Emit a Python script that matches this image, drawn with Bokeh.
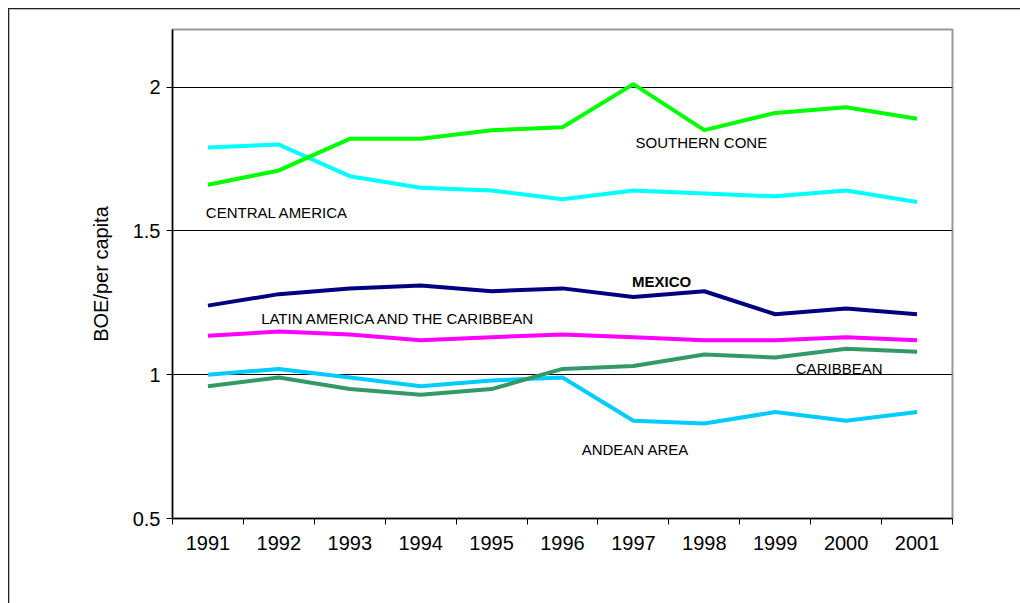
from bokeh.plotting import figure
from bokeh.models import FixedTicker, Range1d
from bokeh.core.properties import value
from bokeh.embed import file_html
from bokeh.resources import INLINE

years = [1991, 1992, 1993, 1994, 1995, 1996, 1997, 1998, 1999, 2000, 2001]
andean_area = [1.00, 1.02, 0.99, 0.96, 0.98, 0.99, 0.84, 0.83, 0.87, 0.84, 0.87]
central_america = [1.79, 1.80, 1.69, 1.65, 1.64, 1.61, 1.64, 1.63, 1.62, 1.64, 1.60]
caribbean = [0.96, 0.99, 0.95, 0.93, 0.95, 1.02, 1.03, 1.07, 1.06, 1.09, 1.08]
latin_america = [1.135, 1.15, 1.14, 1.12, 1.13, 1.14, 1.13, 1.12, 1.12, 1.13, 1.12]
mexico = [1.24, 1.28, 1.30, 1.31, 1.29, 1.30, 1.27, 1.29, 1.21, 1.23, 1.21]
southern_cone = [1.66, 1.71, 1.82, 1.82, 1.85, 1.86, 2.01, 1.85, 1.91, 1.93, 1.89]

y_ticks = [0.5, 1, 1.5, 2]
y_tick_labels = ["0.5", "1", "1.5", "2"]

series = [
    (andean_area, "#00CCFF"),
    (central_america, "#00FFFF"),
    (caribbean, "#339966"),
    (latin_america, "#FF00FF"),
    (mexico, "#000080"),
    (southern_cone, "#00FF00"),
]

label_texts = ["CENTRAL AMERICA", "SOUTHERN CONE", "LATIN AMERICA AND THE CARIBBEAN",
               "MEXICO", "CARIBBEAN", "ANDEAN AREA"]
label_x = [1990.97, 1997.03, 1991.75, 1996.98, 1999.29, 1996.27]
label_y = [1.5625, 1.806, 1.194, 1.323, 1.022, 0.74]
label_bold = [False, False, False, True, False, False]

FONT = "Liberation Sans"

p = figure(width=1020, height=603, output_backend="svg", toolbar_location=None,
           x_range=Range1d(1990.5, 2001.5), y_range=Range1d(0.5, 2.2),
           min_border_left=172, min_border_right=68, min_border_top=29, min_border_bottom=85)
p.border_fill_color = None
p.background_fill_color = "#ffffff"
p.styles = {"background-color": "#ffffff",
            "box-shadow": "inset 8px 8px 0 0 #ffffff, inset 9px 9px 0 0 #222222, inset 10px 10px 0 0 #bbbbbb"}

p.outline_line_color = "#999999"
p.outline_line_width = 2
p.xgrid.grid_line_color = None
p.ygrid.grid_line_color = "#000000"
p.ygrid.grid_line_width = 1
p.ygrid.ticker = FixedTicker(ticks=y_ticks)

# x axis
p.xaxis.ticker = FixedTicker(ticks=years, minor_ticks=[y - 0.5 for y in years] + [years[-1] + 0.5])
p.xaxis.major_tick_line_color = None
p.xaxis.minor_tick_in = 0
p.xaxis.minor_tick_out = 6
p.xaxis.minor_tick_line_color = "#000000"
p.xaxis.axis_line_color = "#000000"
p.xaxis.axis_line_width = 1.5
p.xaxis.major_label_text_font = FONT
p.xaxis.major_label_text_font_size = "20px"
p.xaxis.major_label_text_color = "#000000"
p.xaxis.major_label_standoff = 11
p.xaxis.major_label_overrides = {y: str(y) for y in years}

# y axis
p.yaxis.ticker = FixedTicker(ticks=y_ticks)
p.yaxis.major_label_overrides = dict(zip(y_ticks, y_tick_labels))
p.yaxis.minor_tick_line_color = None
p.yaxis.major_tick_in = 0
p.yaxis.major_tick_out = 6
p.yaxis.major_tick_line_color = "#000000"
p.yaxis.axis_line_color = "#000000"
p.yaxis.axis_line_width = 1.5
p.yaxis.major_label_text_font = FONT
p.yaxis.major_label_text_font_size = "20px"
p.yaxis.major_label_text_color = "#000000"
p.yaxis.major_label_standoff = 6
p.yaxis.axis_label = "BOE/per capita"
p.yaxis.axis_label_text_font = FONT
p.yaxis.axis_label_text_font_size = "20px"
p.yaxis.axis_label_text_font_style = "normal"
p.yaxis.axis_label_text_color = "#000000"
p.yaxis.axis_label_standoff = 18

for vals, color in series:
    p.line(years, vals, line_color=color, line_width=4)

for t, x, y, b in zip(label_texts, label_x, label_y, label_bold):
    p.text(x=[x], y=[y], text=[t], text_font=value(FONT), text_font_size="15px",
           text_font_style="bold" if b else "normal", text_color="#000000",
           text_align="left", text_baseline="middle")

open("out.html", "w").write(file_html(p, INLINE))
